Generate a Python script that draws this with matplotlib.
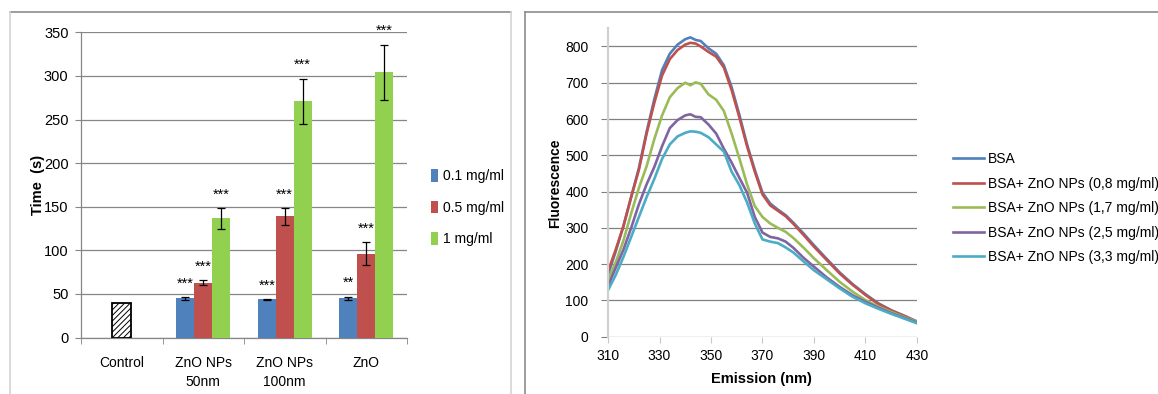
import numpy as np
import matplotlib
matplotlib.use('Agg')
import matplotlib.pyplot as plt
from matplotlib.lines import Line2D

# --- left panel: time per treatment ---
categories = ['Control', 'ZnO NPs\n50nm', 'ZnO NPs\n100nm', 'ZnO']
control_value = 40
conc_labels = ['0.1 mg/ml', '0.5 mg/ml', '1 mg/ml']
time_01 = [45, 44, 45]
time_05 = [63, 139, 96]
time_1 = [137, 271, 304]
err_01 = [1.7, 0.5, 2]
err_05 = [3, 10, 13]
err_1 = [12, 26, 32]
stars_01 = ['***', '***', '**']
stars_05 = ['***', '***', '***']
stars_1 = ['***', '***', '***']

# --- right panel: fluorescence spectra ---
emission = [310, 313, 316, 319, 322, 325, 328, 331, 334, 337, 340, 342, 344, 346, 349,
            352, 355, 358, 361, 364, 367, 370, 373, 376, 379, 382, 386, 390, 395, 400,
            405, 410, 415, 420, 425, 430]
bsa = [170, 235, 305, 385, 465, 565, 655, 735, 780, 805, 820, 825, 818, 815, 795,
       780, 748, 688, 612, 530, 460, 397, 367, 350, 335, 314, 284, 252, 214, 177,
       145, 117, 92, 73, 58, 42]
bsa_08 = [180, 240, 305, 385, 460, 560, 645, 720, 765, 790, 805, 810, 808, 800, 785,
          772, 742, 680, 605, 525, 455, 392, 362, 347, 332, 311, 280, 248, 211, 174,
          143, 115, 90, 72, 57, 41]
bsa_17 = [155, 205, 265, 340, 410, 470, 545, 610, 660, 685, 700, 693, 701, 697, 668,
          653, 622, 560, 492, 420, 360, 330, 312, 300, 289, 272, 245, 216, 183, 151,
          124, 101, 83, 68, 54, 41]
bsa_25 = [140, 190, 240, 300, 365, 420, 468, 525, 575, 597, 610, 613, 606, 605, 585,
          560, 518, 480, 438, 397, 330, 287, 275, 271, 262, 245, 217, 193, 163, 137,
          114, 96, 80, 65, 52, 39]
bsa_33 = [128, 170, 220, 275, 330, 385, 435, 490, 530, 552, 562, 566, 565, 562, 550,
          530, 510, 455, 418, 370, 312, 268, 262, 258, 246, 232, 207, 183, 158, 133,
          110, 92, 77, 63, 50, 37]
spectra_labels = ['BSA', 'BSA+ ZnO NPs (0,8 mg/ml)', 'BSA+ ZnO NPs (1,7 mg/ml)',
                  'BSA+ ZnO NPs (2,5 mg/ml)', 'BSA+ ZnO NPs (3,3 mg/ml)']

W, H = 1158, 394
fig = plt.figure(figsize=(W / 100, H / 100), dpi=100)

fam = ['Liberation Sans', 'DejaVu Sans']
grid_c = '#868686'

# panel frames
def fline(x0, y0, x1, y1, c):
    fig.add_artist(Line2D([x0 / W, x1 / W], [1 - y0 / H, 1 - y1 / H], color=c, lw=1.2,
                          transform=fig.transFigure))

fline(10, 12, 511, 12, '#8c8c8c')
fline(10, 12, 10, H + 2, '#d4d4d4')
fline(511, 12, 511, H + 2, '#d4d4d4')
fline(525, 12, W + 2, 12, '#8c8c8c')
fline(525, 12, 525, H + 2, '#8c8c8c')

# ---------------- left chart ----------------
ax = fig.add_axes([81 / W, (H - 337.5) / H, 326 / W, (337.5 - 32.3) / H])
bw = 0.22
cols = ['#4F81BD', '#C0504D', '#92D050']
plt.rcParams['hatch.linewidth'] = 0.7
ax.bar(0, control_value, width=0.23, color='white', edgecolor='black', lw=1.3,
       hatch='//////', zorder=3)
gx = np.arange(1, 4)
series = [(time_01, err_01, stars_01), (time_05, err_05, stars_05), (time_1, err_1, stars_1)]
for i, (vals, errs, stars) in enumerate(series):
    xs = gx + (i - 1) * bw
    ax.bar(xs, vals, width=bw, color=cols[i], label=conc_labels[i], zorder=3)
    ax.errorbar(xs, vals, yerr=errs, fmt='none', ecolor='black', elinewidth=0.9,
                capsize=3, capthick=0.9, zorder=4)
    for x, v, e, s in zip(xs, vals, errs, stars):
        ax.annotate(s, (x, v + e), xytext=(0, 4.5), textcoords='offset points',
                    ha='center', va='bottom', fontsize=10.5, family=fam)

ax.set_xlim(-0.5, 3.5)
ax.set_ylim(0, 350)
ax.set_yticks(range(0, 351, 50))
ax.yaxis.grid(True, color=grid_c, lw=0.9)
ax.set_axisbelow(True)
ax.set_xticks(range(4))
ax.set_xticklabels(categories, family=fam, fontsize=10, linespacing=1.45)
ax.set_xticks([-0.5, 0.5, 1.5, 2.5, 3.5], minor=True)
ax.tick_params(axis='x', which='major', length=0, pad=13)
ax.tick_params(axis='x', which='minor', length=4, color=grid_c, direction='out')
ax.tick_params(axis='y', length=4, color=grid_c, pad=5)
for lab in ax.get_yticklabels():
    lab.set_family(fam)
    lab.set_fontsize(10.5)
for sp in ['top', 'right']:
    ax.spines[sp].set_visible(False)
for sp in ['left', 'bottom']:
    ax.spines[sp].set_color(grid_c)
    ax.spines[sp].set_linewidth(0.9)
ax.set_ylabel('Time  (s)', fontsize=10.5, fontweight='bold', family=fam)
ax.yaxis.set_label_coords(-0.110, 0.5)
ax.legend(loc='center left', bbox_to_anchor=(1.075, 0.425), frameon=False,
          prop={'family': fam, 'size': 10}, handlelength=0.5, handleheight=1.0,
          handletextpad=0.35, labelspacing=1.25, borderaxespad=0, borderpad=0)

# ---------------- right chart ----------------
ax2 = fig.add_axes([608 / W, (H - 336.7) / H, 309 / W, (336.7 - 28.3) / H])
lcols = ['#4F81BD', '#C0504D', '#9BBB59', '#8064A2', '#4BACC6']
for ys, c, lab in zip([bsa, bsa_08, bsa_17, bsa_25, bsa_33], lcols, spectra_labels):
    ax2.plot(emission, ys, color=c, lw=1.9, label=lab)
ax2.set_xlim(310, 430)
ax2.set_ylim(0, 850)
ax2.set_xticks(range(310, 431, 20))
ax2.set_yticks(range(0, 801, 100))
ax2.yaxis.grid(True, color='#808080', lw=0.9)
ax2.set_axisbelow(True)
for sp in ['top', 'right', 'bottom']:
    ax2.spines[sp].set_visible(False)
ax2.spines['left'].set_color('#d0d0d0')
ax2.spines['left'].set_linewidth(1.6)
ax2.tick_params(axis='y', length=5, color='#808080', pad=9)
ax2.tick_params(axis='x', length=4, color='#c8c8c8', pad=5)
for lab in ax2.get_xticklabels() + ax2.get_yticklabels():
    lab.set_family(fam)
    lab.set_fontsize(10)
ax2.set_xlabel('Emission (nm)', fontsize=10.5, fontweight='bold', family=fam)
ax2.xaxis.set_label_coords(0.498, -0.114)
ax2.set_ylabel('Fluorescence', fontsize=10, fontweight='bold', family=fam)
ax2.yaxis.set_label_coords(-0.149, 0.498)
ax2.legend(loc='center left', bbox_to_anchor=(1.117, 0.417), frameon=False,
           prop={'family': fam, 'size': 10}, handlelength=2.2,
           handletextpad=0.3, labelspacing=0.75, borderaxespad=0, borderpad=0)

fig.savefig('out.png', dpi=100)
